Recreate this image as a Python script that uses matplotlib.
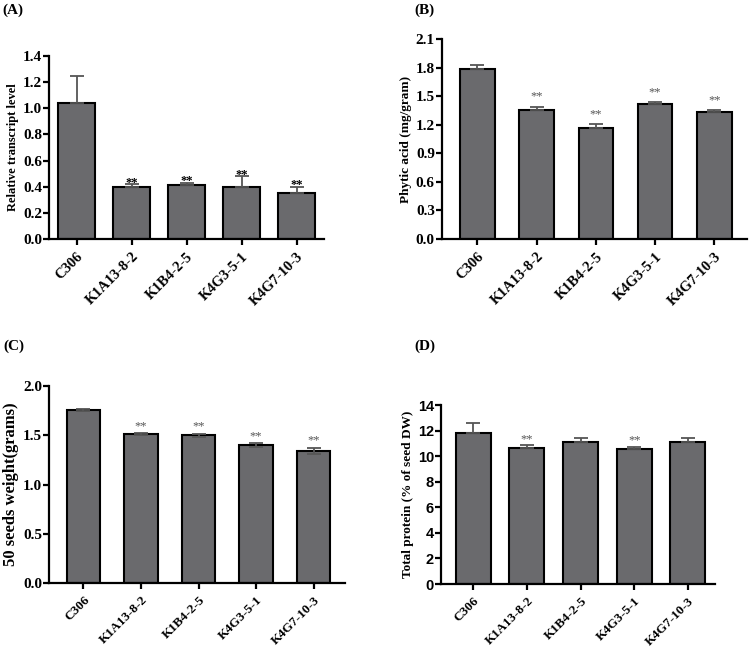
import numpy as np
import matplotlib
matplotlib.use('Agg')
from matplotlib import pyplot as plt

plt.rcParams['font.family'] = ['Liberation Serif', 'DejaVu Serif']
plt.rcParams['font.weight'] = 'bold'

lines = ['C306', 'K1A13-8-2', 'K1B4-2-5', 'K4G3-5-1', 'K4G7-10-3']

# (A) relative transcript level
transcript = [1.04, 0.395, 0.41, 0.40, 0.355]
transcript_err = [0.21, 0.025, 0.02, 0.08, 0.045]

# (B) phytic acid
phytic = [1.79, 1.355, 1.17, 1.42, 1.335]
phytic_err = [0.04, 0.035, 0.04, 0.02, 0.02]

# (C) 50 seeds weight
seeds = [1.755, 1.51, 1.50, 1.40, 1.34]
seeds_err = [0.008, 0.01, 0.015, 0.018, 0.035]

# (D) total protein
protein = [11.85, 10.65, 11.1, 10.6, 11.1]
protein_err = [0.8, 0.2, 0.3, 0.15, 0.3]

stars = {'A': [False, True, True, True, True],
         'B': [False, True, True, True, True],
         'C': [False, True, True, True, True],
         'D': [False, True, False, True, False]}

BAR = '#6a6a6d'


def draw_panel(ax, vals, errs, both, ylim, yticks, ylabel, star_flags,
               width, xlim, ylab_size, star_color, star_gap, tick_font=None,
               ytick_fmt='{:.1f}', ytick_size=11, xtick_size=10.5):
    x = np.arange(len(lines))
    if both:
        yerr = [errs, errs]
    else:
        yerr = [[0] * len(errs), errs]
    ax.bar(x, vals, width=width, color=BAR, edgecolor='black', linewidth=1.5,
           yerr=yerr, capsize=5,
           error_kw=dict(ecolor='#555555', elinewidth=1.3, capthick=1.3))
    for xi, v, e, s in zip(x, vals, errs, star_flags):
        if s:
            ax.text(xi, v + e + star_gap, '**', ha='center', va='bottom',
                    fontsize=9, color=star_color,
                    fontweight='bold' if star_color == 'black' else 'normal')
    ax.set_xlim(*xlim)
    ax.set_ylim(*ylim)
    ax.set_yticks(yticks)
    ax.set_yticklabels([ytick_fmt.format(t) for t in yticks])
    ax.set_xticks(x)
    ax.set_xticklabels(lines, rotation=45, ha='right', rotation_mode='anchor')
    for sp in ['top', 'right']:
        ax.spines[sp].set_visible(False)
    for sp in ['left', 'bottom']:
        ax.spines[sp].set_linewidth(1.6)
    ax.tick_params(axis='both', width=1.6, length=4, pad=2)
    ax.tick_params(axis='x', labelsize=xtick_size, pad=4)
    ax.tick_params(axis='y', labelsize=ytick_size, pad=1)
    ax.set_ylabel(ylabel, fontsize=ylab_size, fontweight='bold', labelpad=3)
    for lab in ax.get_xticklabels() + ax.get_yticklabels():
        lab.set_fontweight('bold')
    if tick_font:
        for lab in ax.get_yticklabels():
            lab.set_family(tick_font)


fig = plt.figure(figsize=(7.5, 6.5), dpi=100)

axA = fig.add_axes([0.0653, 0.6323, 0.367, 0.2815])
draw_panel(axA, transcript, transcript_err, False, (0, 1.4),
           np.arange(0, 1.41, 0.2), 'Relative transcript level', stars['A'],
           0.67, (-0.5, 4.5), 9, 'black', -0.035)

axB = fig.add_axes([0.589, 0.6323, 0.407, 0.3077])
draw_panel(axB, phytic, phytic_err, False, (0, 2.1),
           np.arange(0, 2.11, 0.3), 'Phytic acid (mg/gram)', stars['B'],
           0.58, (-0.6, 4.55), 9.5, '#555555', 0.04)

axC = fig.add_axes([0.0653, 0.1031, 0.395, 0.303])
draw_panel(axC, seeds, seeds_err, True, (0, 2.0),
           np.arange(0, 2.01, 0.5), '50 seeds weight(grams)', stars['C'],
           0.58, (-0.6, 4.55), 12, '#555555', 0.01, xtick_size=9.5)

axD = fig.add_axes([0.588, 0.1015, 0.365, 0.275])
draw_panel(axD, protein, protein_err, False, (0, 14),
           np.arange(0, 14.1, 2), 'Total protein (% of seed DW)', stars['D'],
           0.65, (-0.6, 4.5), 9.5, '#555555', 0.05, tick_font='Liberation Sans',
           ytick_fmt='{:.0f}', ytick_size=10.5, xtick_size=9.5)

for txt, xf, yf in [('(A)', 0.003, 0.995), ('(B)', 0.553, 0.995),
                    ('(C)', 0.004, 0.478), ('(D)', 0.553, 0.478)]:
    fig.text(xf, yf, txt, fontsize=11, fontweight='bold', va='top')

fig.savefig('out.png', dpi=100)
